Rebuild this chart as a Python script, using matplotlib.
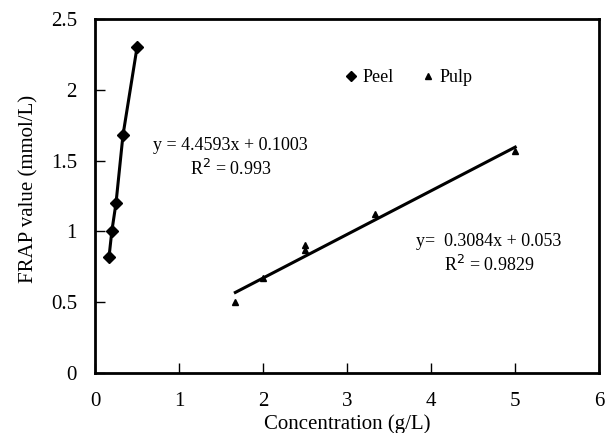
import numpy as np
import matplotlib.pyplot as plt

plt.rcParams['font.family'] = ['Liberation Serif', 'DejaVu Serif']

# data
peel_x = [0.167, 0.2, 0.25, 0.333, 0.5]
peel_y = [0.82, 1.0, 1.2, 1.68, 2.3]
pulp_x = [1.67, 2.0, 2.5, 2.5, 3.33, 5.0]
pulp_y = [0.5, 0.67, 0.87, 0.9, 1.12, 1.57]

pulp_slope, pulp_icpt = 0.3084, 0.053
peel_eq = "y = 4.4593x + 0.1003\nR$^2$ = 0.993"
pulp_eq = "y=  0.3084x + 0.053\nR$^2$ = 0.9829"

fig = plt.figure(figsize=(6.09, 4.33), dpi=100)
ax = fig.add_axes([0.156, 0.139, 0.828, 0.817])

# peel: points joined by a thick line
ax.plot(peel_x, peel_y, color='black', lw=2.2)
ax.plot(peel_x, peel_y, color='black', lw=0, marker='D', ms=6.5, label='Peel')
ax.plot(pulp_x, pulp_y, color='black', lw=0, marker='^', ms=5, label='Pulp')
fx = np.array([min(pulp_x), max(pulp_x)])
ax.plot(fx, pulp_slope * fx + pulp_icpt, color='black', lw=2.2)

ax.text(1.61, 1.52, peel_eq, ha='center', va='center', fontsize=13, linespacing=1.3)
ax.text(4.69, 0.84, pulp_eq, ha='center', va='center', fontsize=13, linespacing=1.3)

ax.set_xlim(0, 6)
ax.set_ylim(0, 2.5)
ax.set_xticks(range(0, 7))
ax.set_yticks([0, 0.5, 1, 1.5, 2, 2.5])
ax.set_yticklabels(['0', '0.5', '1', '1.5', '2', '2.5'])
ax.tick_params(direction='in', length=7, width=1, labelsize=15)
ax.tick_params(axis='x', pad=13.5)
ax.tick_params(axis='y', pad=13)
for s in ax.spines.values():
    s.set_linewidth(2)

ax.set_xlabel('Concentration (g/L)', fontsize=15)
ax.set_ylabel('FRAP value (mmol/L)', fontsize=15)
ax.xaxis.set_label_coords(0.5, -0.116)
ax.yaxis.set_label_coords(-0.113, 0.52)

ax.legend(loc='center', bbox_to_anchor=(0.622, 0.835), ncol=2, frameon=False,
          fontsize=13, handlelength=0.7, handletextpad=0.3, columnspacing=1.55,
          markerscale=0.85)

fig.savefig('out.png', dpi=100)
